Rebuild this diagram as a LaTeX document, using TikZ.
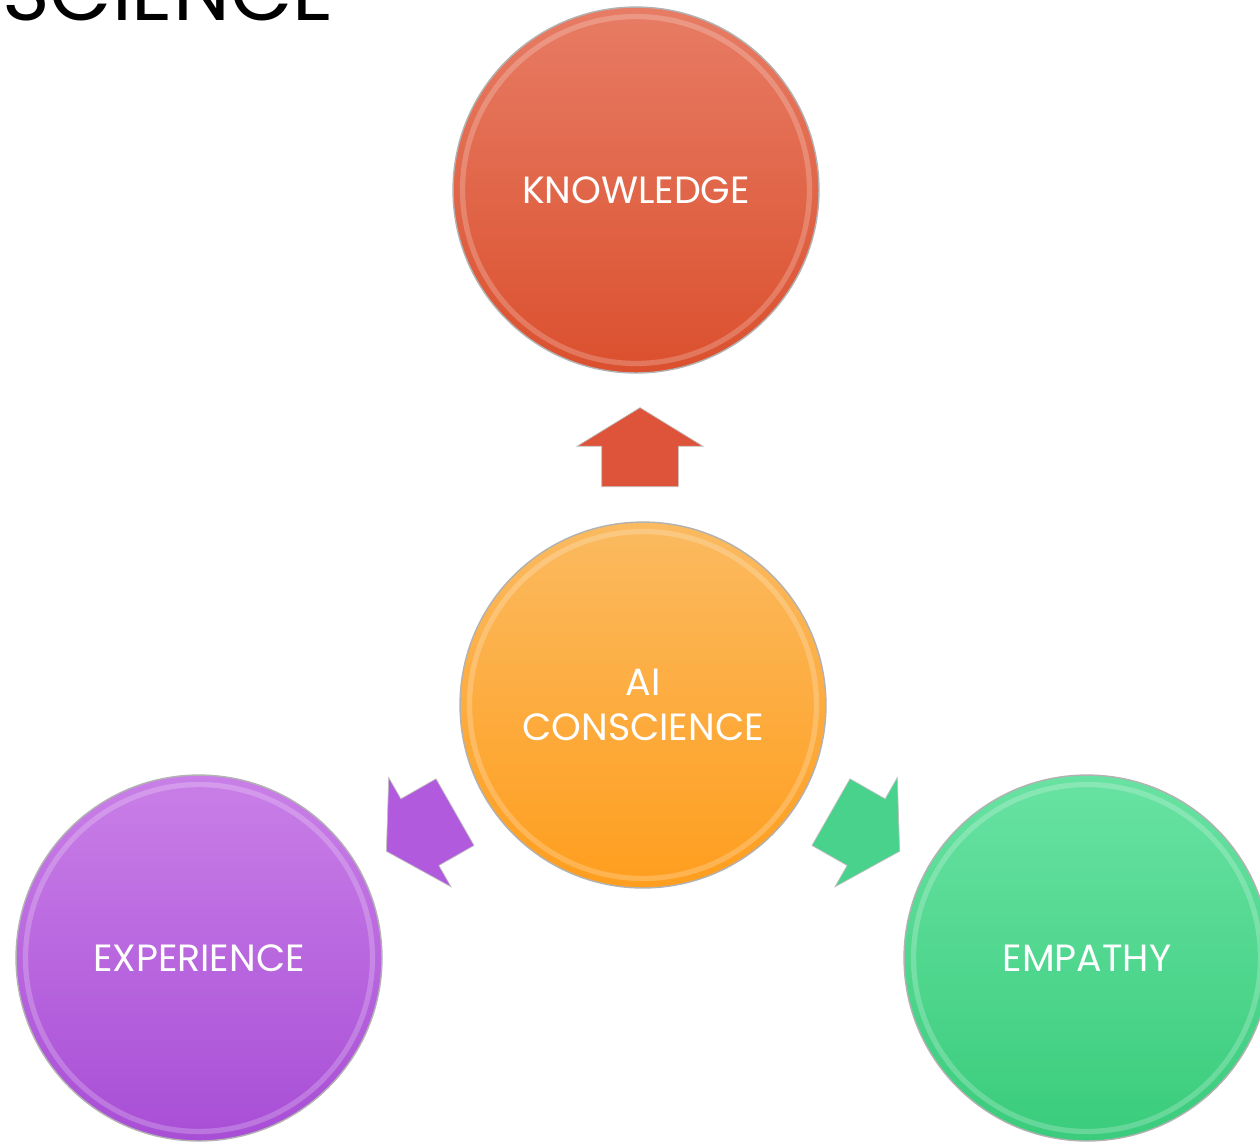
\documentclass[tikz,border=0pt]{standalone}
\usepackage{fontspec}
\setmainfont{Poppins}
\usetikzlibrary{calc,shapes.arrows}
\definecolor{knowtop}{RGB}{231,124,100}
\definecolor{knowbot}{RGB}{219,80,46}
\definecolor{aitop}{RGB}{251,186,96}
\definecolor{aibot}{RGB}{255,158,30}
\definecolor{exptop}{RGB}{201,127,231}
\definecolor{expbot}{RGB}{168,78,214}
\definecolor{emptop}{RGB}{104,226,162}
\definecolor{empbot}{RGB}{58,204,124}
\definecolor{knowarrow}{RGB}{221,84,58}
\definecolor{exparrow}{RGB}{178,90,222}
\definecolor{emparrow}{RGB}{72,210,140}
\tikzset{
    ball/.style = {
        circle,
        minimum size=7.32cm,
        inner sep=0pt,
        draw=gray!60,
        line width=0.8pt,
        text=white,
        font=\fontsize{21.6}{26}\selectfont,
        align=center,
        path picture={
            \draw[white, opacity=0.22, line width=3pt]
                (path picture bounding box.center) circle (3.47cm);
        },
        },
    know ball/.style = {
        ball, top color=knowtop, bottom color=knowbot,
        },
    ai ball/.style = {
        ball, top color=aitop, bottom color=aibot,
        },
    exp ball/.style = {
        ball, top color=exptop, bottom color=expbot,
        },
    emp ball/.style = {
        ball, top color=emptop, bottom color=empbot,
        },
    block arrow/.style = {
        single arrow,
        draw=gray!50,
        thin,
        anchor=tail,
        minimum height=1.58cm,
        minimum width=2.5cm,
        single arrow head extend=0.49cm,
        single arrow tip angle=117,
        inner xsep=0pt,
        inner ysep=0.76cm,
        },
}
\begin{document}
\begin{tikzpicture}[x=0.02cm, y=-0.02cm]
    \useasboundingbox[fill=white] (0,0) rectangle (1260,1144);
    \node[anchor=base west, font=\fontsize{46}{46}\selectfont] (title) at (-4,20) {SCIENCE};

    \node[know ball] (know) at (636,190) {KNOWLEDGE};
    \node[ai ball] (ai) at (643,705) {AI\\CONSCIENCE};
    \node[exp ball] (exp) at (199,958) {EXPERIENCE};
    \node[emp ball] (emp) at (1087,958) {EMPATHY};

    % block arrows, tail end 0.79cm back from the midpoint
    \node[block arrow, fill=knowarrow, rotate=90] (up) at ($(ai)!0.5!(know)!0.79cm!(ai)$) {};
    \node[block arrow, fill=exparrow, rotate=209.7] (left) at ($(ai)!0.5!(exp)!0.79cm!(ai)$) {};
    \node[block arrow, fill=emparrow, rotate=-29.7] (right) at ($(ai)!0.5!(emp)!0.79cm!(ai)$) {};
\end{tikzpicture}
\end{document}
